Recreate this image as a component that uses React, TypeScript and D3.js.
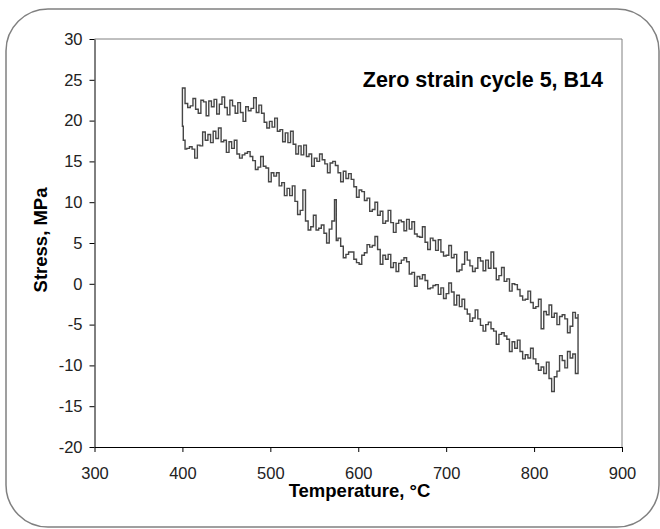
import React, { useEffect, useRef } from "react";
import * as d3 from "d3";

// heating branch (upper), 400 -> 850 C
const upperTemp = [400, 400, 403, 406, 409, 412, 415, 418, 421, 424, 427, 430, 433, 436, 439, 442, 445, 448, 451, 454, 457, 460, 463, 466, 469, 472, 475, 478, 481, 484, 487, 490, 493, 496, 499, 502, 505, 508, 511, 514, 517, 520, 523, 526, 529, 532, 535, 538, 541, 544, 547, 550, 553, 556, 559, 562, 565, 568, 571, 574, 577, 580, 583, 586, 589, 592, 595, 598, 601, 604, 607, 610, 613, 616, 619, 622, 625, 628, 631, 634, 637, 640, 643, 646, 649, 652, 655, 658, 661, 664, 667, 670, 673, 676, 679, 682, 685, 688, 691, 694, 697, 700, 703, 706, 709, 712, 715, 718, 721, 724, 727, 730, 733, 736, 739, 742, 745, 748, 751, 754, 757, 760, 763, 766, 769, 772, 775, 778, 781, 784, 787, 790, 793, 796, 799, 802, 805, 808, 811, 814, 817, 820, 823, 826, 829, 832, 835, 838, 841, 844, 847, 850];
const upperStress = [20.0, 24.0, 22.1, 21.6, 21.8, 22.7, 21.4, 20.9, 22.5, 22.3, 20.6, 22.4, 21.7, 22.6, 20.8, 22.0, 22.9, 21.6, 20.7, 22.5, 21.8, 20.9, 22.2, 21.0, 19.9, 21.7, 21.2, 21.5, 22.8, 21.0, 21.9, 20.9, 19.8, 19.1, 19.9, 19.2, 20.3, 18.7, 18.9, 17.4, 18.5, 17.3, 18.7, 17.1, 15.9, 16.9, 15.8, 17.0, 15.6, 15.9, 14.4, 15.4, 15.0, 15.9, 15.2, 14.7, 13.6, 14.8, 15.0, 14.5, 13.6, 12.5, 13.8, 12.9, 13.5, 12.8, 11.9, 10.6, 11.5, 11.3, 10.2, 10.5, 8.9, 9.1, 10.0, 8.4, 8.9, 7.4, 7.7, 9.0, 7.5, 6.3, 7.4, 7.8, 7.6, 6.5, 7.9, 6.7, 7.6, 6.1, 5.8, 5.7, 7.0, 5.1, 4.2, 5.6, 5.3, 4.1, 5.4, 3.9, 3.4, 3.5, 4.7, 3.2, 3.6, 1.5, 1.7, 2.4, 3.9, 2.9, 2.2, 1.5, 1.9, 3.2, 2.8, 1.6, 2.9, 1.9, 3.9, 1.9, 0.5, 1.0, 2.0, 0.3, 0.6, -0.9, 0.0, -0.1, -0.7, -1.5, -2.0, -1.9, -0.9, -2.3, -3.0, -2.8, -1.9, -5.5, -3.4, -3.8, -2.6, -4.1, -3.6, -5.0, -4.0, -3.8, -4.3, -6.0, -5.2, -3.5, -4.2, -3.7];

// cooling branch (lower), 850 -> 400 C
const lowerTemp = [850, 847, 844, 841, 838, 835, 832, 829, 826, 823, 820, 817, 814, 811, 808, 805, 802, 799, 796, 793, 790, 787, 784, 781, 778, 775, 772, 769, 766, 763, 760, 757, 754, 751, 748, 745, 742, 739, 736, 733, 730, 727, 724, 721, 718, 715, 712, 709, 706, 703, 700, 697, 694, 691, 688, 685, 682, 679, 676, 673, 670, 667, 664, 661, 658, 655, 652, 649, 646, 643, 640, 637, 634, 631, 628, 625, 622, 619, 616, 613, 610, 607, 604, 601, 598, 595, 592, 589, 586, 583, 580, 577, 575, 573, 570, 567, 564, 561, 558, 555, 552, 549, 546, 543, 540, 537, 534, 531, 528, 525, 522, 519, 516, 513, 510, 507, 504, 501, 498, 495, 492, 489, 486, 483, 480, 477, 474, 471, 468, 465, 462, 459, 456, 453, 450, 447, 444, 441, 438, 435, 432, 429, 426, 423, 420, 417, 414, 411, 408, 405, 403, 401, 400];
const lowerStress = [-11.0, -8.6, -9.1, -8.3, -10.3, -9.4, -8.8, -10.7, -11.4, -13.2, -11.6, -9.6, -11.0, -10.2, -10.6, -9.8, -9.2, -7.9, -9.1, -8.7, -9.2, -8.3, -6.9, -7.9, -7.1, -8.3, -6.8, -6.4, -6.0, -6.2, -7.4, -5.8, -5.5, -4.7, -5.0, -5.8, -5.1, -4.3, -3.2, -4.2, -4.6, -3.7, -3.1, -1.9, -2.8, -1.4, -2.6, -1.0, 0.1, -1.2, -1.8, -0.5, -1.3, -0.1, -0.2, -0.5, -0.6, 0.4, 1.1, 0.6, 0.9, -0.3, 1.4, 1.2, 2.7, 3.2, 2.9, 2.5, 1.5, 2.6, 2.0, 3.6, 3.0, 3.5, 2.4, 4.2, 5.8, 4.7, 4.5, 4.8, 3.8, 3.5, 2.4, 2.6, 3.0, 3.9, 3.9, 3.6, 3.2, 4.6, 5.6, 5.3, 10.3, 7.7, 6.7, 5.0, 6.2, 7.2, 6.8, 6.6, 8.4, 7.0, 6.6, 7.7, 11.5, 9.0, 8.5, 10.1, 12.0, 10.8, 11.7, 10.8, 12.4, 12.0, 13.6, 13.2, 13.6, 12.5, 14.2, 14.4, 15.6, 14.3, 14.0, 15.1, 15.6, 16.2, 16.0, 15.8, 15.4, 15.9, 17.6, 16.6, 17.4, 16.1, 17.6, 17.4, 19.1, 17.8, 18.7, 17.3, 18.3, 17.6, 18.6, 16.9, 17.0, 15.4, 16.5, 16.8, 16.6, 16.5, 17.6, 19.3, 20.0];

const xTicks = [300, 400, 500, 600, 700, 800, 900];
const yTicks = [-20, -15, -10, -5, 0, 5, 10, 15, 20, 25, 30];

export default function App() {
  const ref = useRef<SVGSVGElement>(null);

  useEffect(() => {
    const width = 660;
    const height = 529;
    const margin = { top: 39, right: 38, bottom: 82, left: 94.5 };
    const innerWidth = width - margin.left - margin.right;
    const innerHeight = height - margin.top - margin.bottom;

    const svg = d3.select(ref.current);
    svg.selectAll("*").remove();

    // rounded frame
    svg.append("rect")
      .attr("x", 6)
      .attr("y", 9)
      .attr("width", 653)
      .attr("height", 518)
      .attr("rx", 42)
      .attr("ry", 42)
      .style("fill", "white")
      .style("stroke", "#808080")
      .style("stroke-width", "1.5px");

    const g = svg.append("g").attr("transform", `translate(${margin.left}, ${margin.top})`);

    const x = d3.scaleLinear().domain([300, 900]).range([0, innerWidth]);
    const y = d3.scaleLinear().domain([-20, 30]).range([innerHeight, 0]);

    // plot area border (top + right)
    g.append("path")
      .attr("d", `M0,0H${innerWidth}V${innerHeight}`)
      .style("fill", "none")
      .style("stroke", "#808080")
      .style("stroke-width", "1px");

    const xAxis = g.append("g")
      .attr("transform", `translate(0, ${innerHeight})`)
      .call(d3.axisBottom(x).tickValues(xTicks).tickFormat(d => String(d)).tickSize(5).tickPadding(15).tickSizeOuter(0));
    const yAxis = g.append("g")
      .call(d3.axisLeft(y).tickValues(yTicks).tickFormat(d => String(d)).tickSize(5).tickPadding(7).tickSizeOuter(0));

    [xAxis, yAxis].forEach(a => {
      a.selectAll("text")
        .style("font-family", "Arial, 'Liberation Sans', sans-serif")
        .style("font-size", "16.5px")
        .style("fill", "#222");
      a.selectAll("line").style("stroke", "#000");
      a.select(".domain").style("stroke", "#000");
    });

    // loop: heating then cooling
    const pts: [number, number][] = [];
    upperTemp.forEach((t, i) => pts.push([t, upperStress[i]]));
    lowerTemp.forEach((t, i) => pts.push([t, lowerStress[i]]));

    const line = d3.line<[number, number]>()
      .x(d => x(d[0]))
      .y(d => y(d[1]))
      .curve(d3.curveStepAfter);

    g.append("path")
      .datum(pts)
      .attr("d", line)
      .style("fill", "none")
      .style("stroke", "#464646")
      .style("stroke-width", "1.4px");

    // title
    svg.append("text")
      .attr("text-anchor", "end")
      .attr("x", 603)
      .attr("y", 87)
      .style("font-family", "Arial, 'Liberation Sans', sans-serif")
      .style("font-weight", "bold")
      .style("font-size", "21.5px")
      .style("fill", "#000")
      .text("Zero strain cycle 5, B14");

    // axis titles
    svg.append("text")
      .attr("text-anchor", "middle")
      .attr("x", 359.5)
      .attr("y", 497)
      .style("font-family", "Arial, 'Liberation Sans', sans-serif")
      .style("font-weight", "bold")
      .style("font-size", "18.5px")
      .text("Temperature, °C");

    svg.append("text")
      .attr("text-anchor", "middle")
      .attr("transform", "translate(47, 240) rotate(-90)")
      .style("font-family", "Arial, 'Liberation Sans', sans-serif")
      .style("font-weight", "bold")
      .style("font-size", "18.5px")
      .text("Stress, MPa");
  }, []);

  return (
    <svg ref={ref} width={660} height={529} style={{ position: "absolute", left: 0, top: 0 }}></svg>
  );
}
